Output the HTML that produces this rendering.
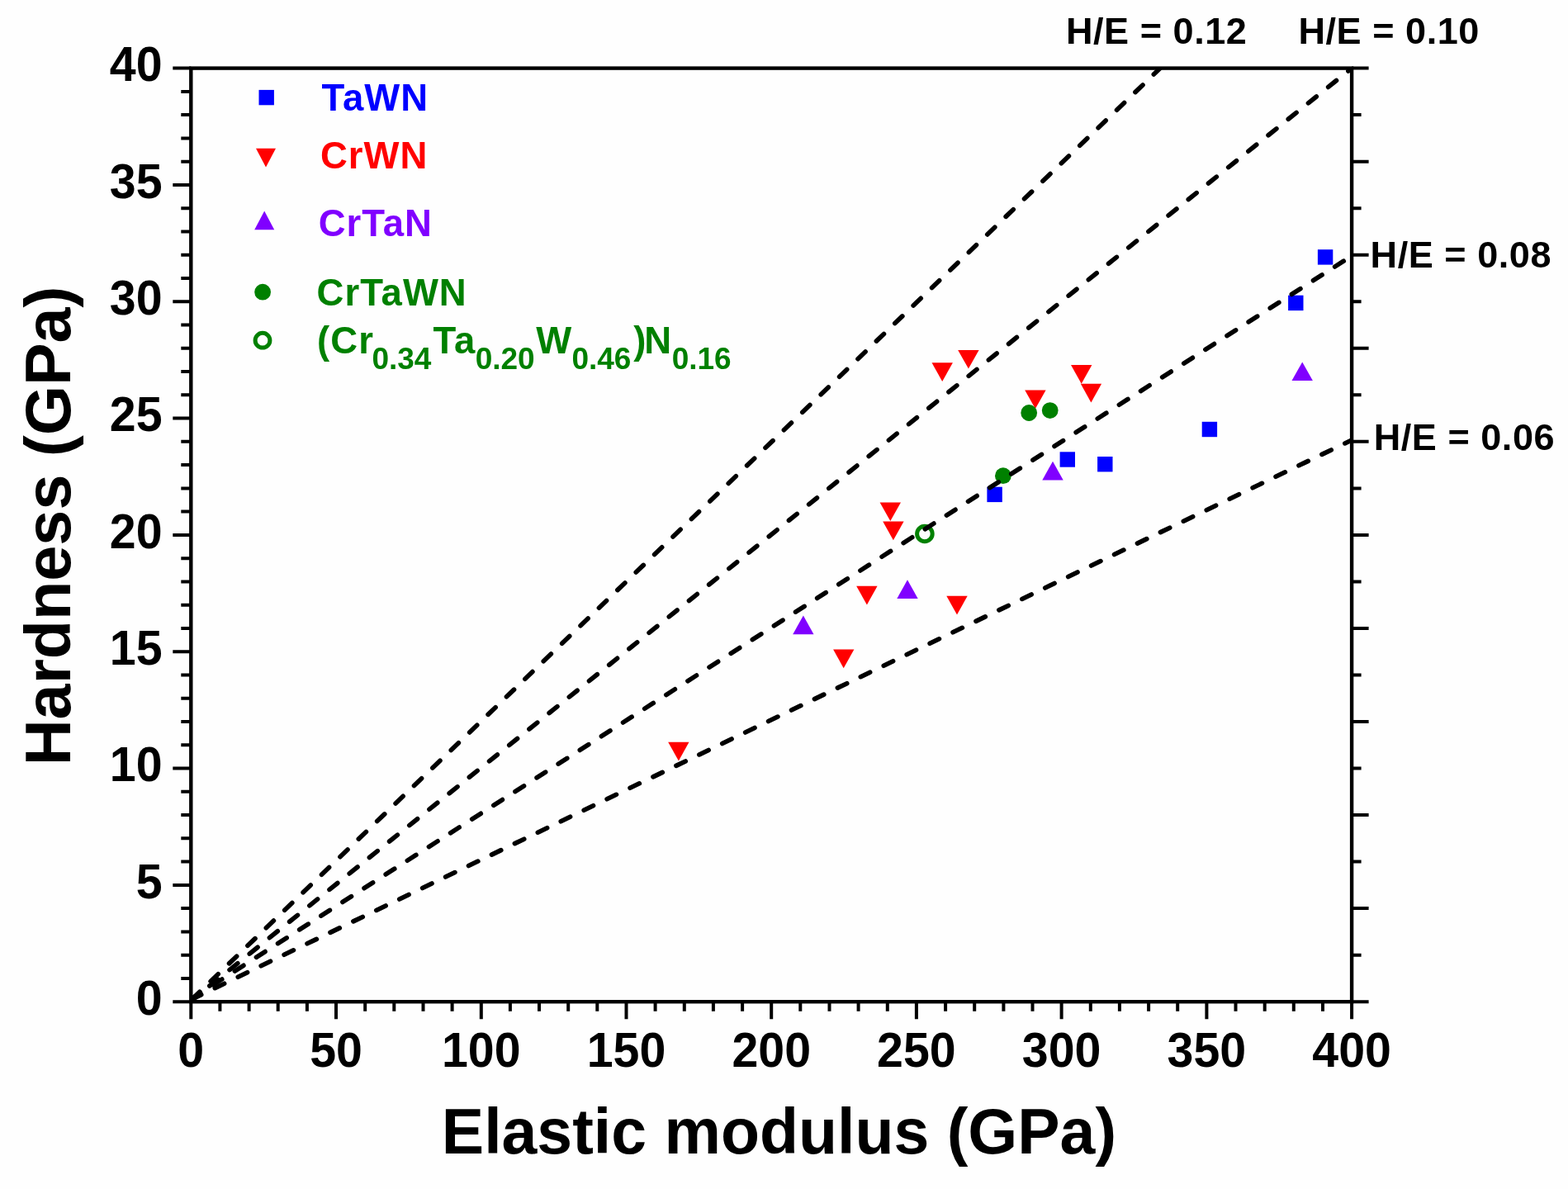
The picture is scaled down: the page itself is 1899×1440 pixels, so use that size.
<!DOCTYPE html>
<html><head><meta charset="utf-8"><title>Hardness vs Elastic modulus</title>
<style>
html,body{margin:0;padding:0;background:#fefefe;}
body{width:1899px;height:1440px;overflow:hidden;}
svg{display:block;}
text{font-family:"Liberation Sans",sans-serif;font-weight:bold;}
</style></head><body>
<svg width="1899" height="1440" viewBox="0 0 1899 1440">
<rect width="1899" height="1440" fill="#fefefe"/>
<!-- axes frame -->
<rect x="231.3" y="82.6" width="1405.8" height="1130.6" fill="none" stroke="#000" stroke-width="4.4"/>
<path d="M209.3 1213.2H231.3M219.3 1184.9H231.3M219.3 1156.7H231.3M219.3 1128.4H231.3M219.3 1100.1H231.3M209.3 1071.9H231.3M219.3 1043.6H231.3M219.3 1015.3H231.3M219.3 987.1H231.3M219.3 958.8H231.3M209.3 930.5H231.3M219.3 902.3H231.3M219.3 874H231.3M219.3 845.8H231.3M219.3 817.5H231.3M209.3 789.2H231.3M219.3 761H231.3M219.3 732.7H231.3M219.3 704.4H231.3M219.3 676.2H231.3M209.3 647.9H231.3M219.3 619.6H231.3M219.3 591.4H231.3M219.3 563.1H231.3M219.3 534.8H231.3M209.3 506.6H231.3M219.3 478.3H231.3M219.3 450H231.3M219.3 421.8H231.3M219.3 393.5H231.3M209.3 365.2H231.3M219.3 337H231.3M219.3 308.7H231.3M219.3 280.5H231.3M219.3 252.2H231.3M209.3 223.9H231.3M219.3 195.7H231.3M219.3 167.4H231.3M219.3 139.1H231.3M219.3 110.9H231.3M209.3 82.6H231.3M1637.1 1213.2H1657.6M1637.1 1156.7H1648.6M1637.1 1100.1H1657.6M1637.1 1043.6H1648.6M1637.1 987.1H1657.6M1637.1 930.5H1648.6M1637.1 874H1657.6M1637.1 817.5H1648.6M1637.1 761H1657.6M1637.1 704.4H1648.6M1637.1 647.9H1657.6M1637.1 591.4H1648.6M1637.1 534.8H1657.6M1637.1 478.3H1648.6M1637.1 421.8H1657.6M1637.1 365.2H1648.6M1637.1 308.7H1657.6M1637.1 252.2H1648.6M1637.1 195.7H1657.6M1637.1 139.1H1648.6M1637.1 82.6H1657.6M231.3 1213.2V1234.2M266.4 1213.2V1224.7M301.6 1213.2V1224.7M336.7 1213.2V1224.7M371.9 1213.2V1224.7M407 1213.2V1234.2M442.2 1213.2V1224.7M477.3 1213.2V1224.7M512.5 1213.2V1224.7M547.6 1213.2V1224.7M582.8 1213.2V1234.2M617.9 1213.2V1224.7M653 1213.2V1224.7M688.2 1213.2V1224.7M723.3 1213.2V1224.7M758.5 1213.2V1234.2M793.6 1213.2V1224.7M828.8 1213.2V1224.7M863.9 1213.2V1224.7M899.1 1213.2V1224.7M934.2 1213.2V1234.2M969.3 1213.2V1224.7M1004.5 1213.2V1224.7M1039.6 1213.2V1224.7M1074.8 1213.2V1224.7M1109.9 1213.2V1234.2M1145.1 1213.2V1224.7M1180.2 1213.2V1224.7M1215.4 1213.2V1224.7M1250.5 1213.2V1224.7M1285.6 1213.2V1234.2M1320.8 1213.2V1224.7M1355.9 1213.2V1224.7M1391.1 1213.2V1224.7M1426.2 1213.2V1224.7M1461.4 1213.2V1234.2M1496.5 1213.2V1224.7M1531.7 1213.2V1224.7M1566.8 1213.2V1224.7M1602 1213.2V1224.7M1637.1 1213.2V1234.2" fill="none" stroke="#000" stroke-width="4.0"/>
<!-- data -->
<g fill="#0000ff"><rect x="1595.9" y="302.2" width="18.4" height="18.4"/><rect x="1560.1" y="357.7" width="18.4" height="18.4"/><rect x="1455.7" y="510.8" width="18.4" height="18.4"/><rect x="1283.6" y="547.3" width="18.4" height="18.4"/><rect x="1329.1" y="553" width="18.4" height="18.4"/><rect x="1195.4" y="589.7" width="18.4" height="18.4"/><rect x="313.5" y="108.9" width="18.4" height="18.4"/></g>
<g fill="#ff0000"><path d="M1128.5 439.2H1153.9L1141.2 461.9Z"/><path d="M1160.2 423.9H1185.6L1172.9 446.6Z"/><path d="M1297 442H1322.4L1309.7 464.7Z"/><path d="M1308.8 464.7H1334.1L1321.4 487.4Z"/><path d="M1241.2 472.4H1266.6L1253.9 495.1Z"/><path d="M1065.6 608.4H1091L1078.3 631.1Z"/><path d="M1069.2 631.5H1094.6L1081.9 654.2Z"/><path d="M1037.2 709.8H1062.6L1049.9 732.5Z"/><path d="M1146.3 721.8H1171.7L1159 744.5Z"/><path d="M1009.1 786.5H1034.4L1021.7 809.2Z"/><path d="M809.2 898.8H834.5L821.9 921.5Z"/><path d="M310 179.7H334L322 202.6Z"/></g>
<g fill="#8000ff"><path d="M1262.3 581.4H1287.7L1275 558.7Z"/><path d="M1086.3 725H1111.7L1099 702.3Z"/><path d="M960.2 768.2H985.5L972.9 745.5Z"/><path d="M1564.5 461.1H1589.9L1577.2 438.4Z"/><path d="M308.2 278.2H332.2L320.2 255.5Z"/></g>
<g fill="#008000"><circle cx="1246.2" cy="500" r="9.9"/><circle cx="1271.7" cy="497.1" r="9.9"/><circle cx="1214.9" cy="576.2" r="9.9"/><circle cx="318.1" cy="353.7" r="9.9"/></g>
<g fill="none" stroke="#008000" stroke-width="5"><circle cx="1119.9" cy="646.5" r="9.3"/><circle cx="318" cy="412.2" r="8.9"/></g>
<!-- H/E guide lines -->
<clipPath id="pa"><rect x="231.3" y="82.6" width="1405.8" height="1130.6"/></clipPath>
<g stroke="#000" stroke-width="5.6" stroke-linecap="round" fill="none" clip-path="url(#pa)">
<line x1="231.3" y1="1211.34" x2="1405.11" y2="82.60" stroke-dasharray="12.6 18.470" stroke-dashoffset="-2.00"/>
<line x1="231.3" y1="1212.13" x2="1637.10" y2="82.57" stroke-dasharray="12.6 18.435" stroke-dashoffset="2.10"/>
<line x1="231.3" y1="1210.01" x2="1637.10" y2="309.88" stroke-dasharray="12.6 18.420" stroke-dashoffset="-0.90"/>
<line x1="231.3" y1="1210.67" x2="1637.10" y2="532.93" stroke-dasharray="12.6 18.405" stroke-dashoffset="-1.20"/>
</g>
<!-- tick labels -->
<g font-size="60" text-anchor="end">
<text transform="translate(196.6 1228.8) scale(0.955 1)">0</text>
<text transform="translate(196.6 1087.5) scale(0.955 1)">5</text>
<text transform="translate(196.6 946.1) scale(0.955 1)">10</text>
<text transform="translate(196.6 804.8) scale(0.955 1)">15</text>
<text transform="translate(196.6 663.5) scale(0.955 1)">20</text>
<text transform="translate(196.6 522.2) scale(0.955 1)">25</text>
<text transform="translate(196.6 380.8) scale(0.955 1)">30</text>
<text transform="translate(196.6 239.5) scale(0.955 1)">35</text>
<text transform="translate(196.6 98.2) scale(0.955 1)">40</text>
</g>
<g font-size="60" text-anchor="middle">
<text transform="translate(231.3 1292) scale(0.955 1)">0</text>
<text transform="translate(407 1292) scale(0.955 1)">50</text>
<text transform="translate(582.8 1292) scale(0.955 1)">100</text>
<text transform="translate(758.5 1292) scale(0.955 1)">150</text>
<text transform="translate(934.2 1292) scale(0.955 1)">200</text>
<text transform="translate(1109.9 1292) scale(0.955 1)">250</text>
<text transform="translate(1285.6 1292) scale(0.955 1)">300</text>
<text transform="translate(1461.4 1292) scale(0.955 1)">350</text>
<text transform="translate(1637.1 1292) scale(0.955 1)">400</text>
</g>
<!-- axis titles -->
<text x="534.8" y="1397" font-size="77">Elastic modulus (GPa)</text>
<text transform="translate(85.4 927.3) rotate(-90)" font-size="77.4">Hardness (GPa)</text>
<!-- H/E labels -->
<g font-size="45" letter-spacing="0.55">
<text x="1291" y="53.2">H/E = 0.12</text>
<text x="1572.5" y="53.2">H/E = 0.10</text>
<text x="1659.6" y="324.3">H/E = 0.08</text>
<text x="1663.7" y="545">H/E = 0.06</text>
</g>
<!-- legend -->
<g font-size="45.5" letter-spacing="1">
<text x="389.6" y="134.3" fill="#0000ff">TaWN</text>
<text x="387.9" y="203.8" fill="#ff0000">CrWN</text>
<text x="385.7" y="285.8" fill="#8000ff">CrTaN</text>
<text x="383.6" y="370.3" fill="#008000">CrTaWN</text>
<text y="428.3" fill="#008000"><tspan x="383.9" letter-spacing="1.2">(Cr</tspan><tspan x="450.4" y="446.9" font-size="37" letter-spacing="0">0.34</tspan><tspan x="524.5" y="428.3" letter-spacing="1.2">Ta</tspan><tspan x="575.7" y="446.9" font-size="37" letter-spacing="0">0.20</tspan><tspan x="649.2" y="428.3">W</tspan><tspan x="692.4" y="446.9" font-size="37" letter-spacing="0">0.46</tspan><tspan x="767.2" y="428.3">)</tspan><tspan x="780.2">N</tspan><tspan x="813.7" y="446.9" font-size="37" letter-spacing="0">0.16</tspan></text>
</g>
</svg>
</body></html>
